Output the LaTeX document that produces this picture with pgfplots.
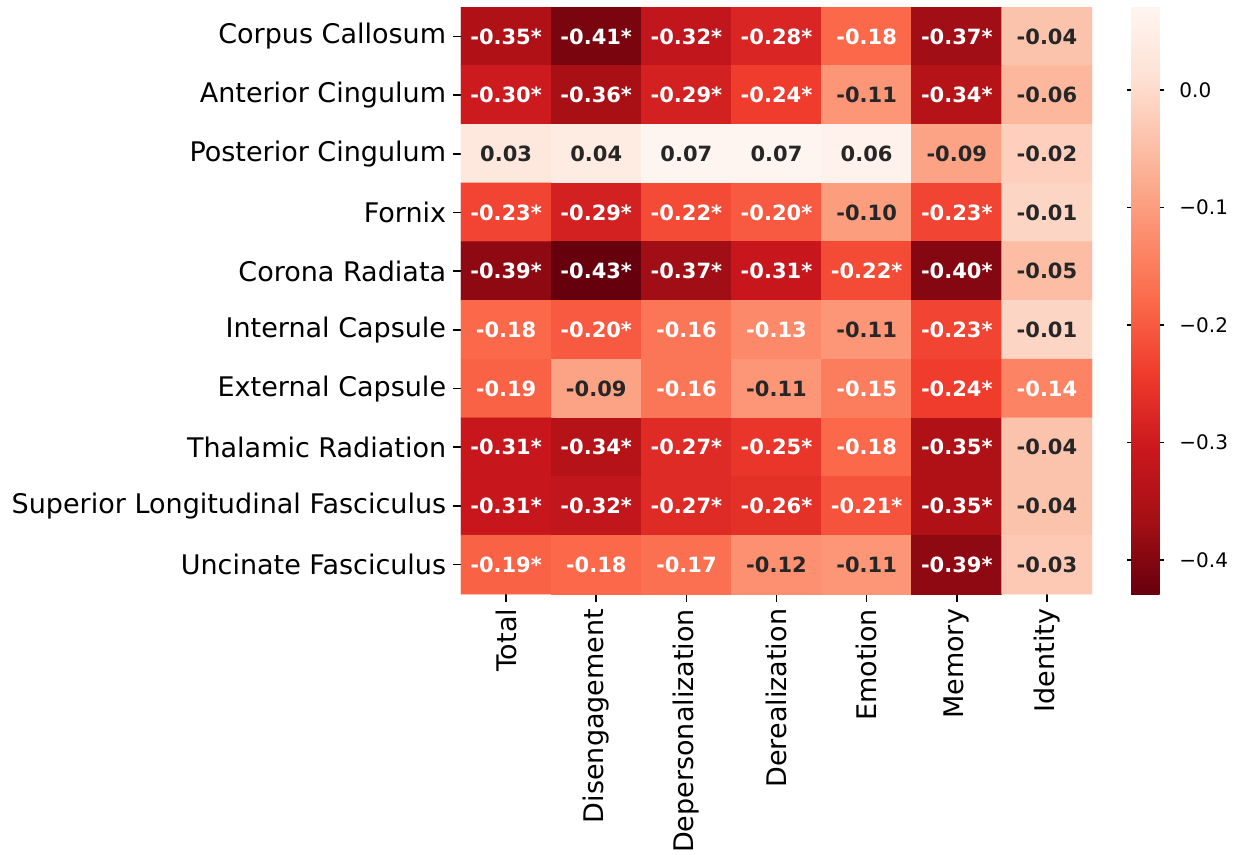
\documentclass[border=0pt]{standalone}
\usepackage{pgfplots}
\pgfplotsset{compat=1.18}
\usepackage{pgfplotstable}
\usepackage{fontspec}
\setmainfont{DejaVu Sans}
\usetikzlibrary{calc}
\definecolor{dtext}{HTML}{262626}

\pgfplotstableread{
x y v lab tc
0 0 -0.35 -0.35* 1
1 0 -0.41 -0.41* 1
2 0 -0.32 -0.32* 1
3 0 -0.28 -0.28* 1
4 0 -0.18 -0.18 1
5 0 -0.37 -0.37* 1
6 0 -0.04 -0.04 0
0 1 -0.30 -0.30* 1
1 1 -0.36 -0.36* 1
2 1 -0.29 -0.29* 1
3 1 -0.24 -0.24* 1
4 1 -0.11 -0.11 0
5 1 -0.34 -0.34* 1
6 1 -0.06 -0.06 0
0 2 0.03 0.03 0
1 2 0.04 0.04 0
2 2 0.07 0.07 0
3 2 0.07 0.07 0
4 2 0.06 0.06 0
5 2 -0.09 -0.09 0
6 2 -0.02 -0.02 0
0 3 -0.23 -0.23* 1
1 3 -0.29 -0.29* 1
2 3 -0.22 -0.22* 1
3 3 -0.20 -0.20* 1
4 3 -0.10 -0.10 0
5 3 -0.23 -0.23* 1
6 3 -0.01 -0.01 0
0 4 -0.39 -0.39* 1
1 4 -0.43 -0.43* 1
2 4 -0.37 -0.37* 1
3 4 -0.31 -0.31* 1
4 4 -0.22 -0.22* 1
5 4 -0.40 -0.40* 1
6 4 -0.05 -0.05 0
0 5 -0.18 -0.18 1
1 5 -0.20 -0.20* 1
2 5 -0.16 -0.16 1
3 5 -0.13 -0.13 1
4 5 -0.11 -0.11 0
5 5 -0.23 -0.23* 1
6 5 -0.01 -0.01 0
0 6 -0.19 -0.19 1
1 6 -0.09 -0.09 0
2 6 -0.16 -0.16 1
3 6 -0.11 -0.11 0
4 6 -0.15 -0.15 1
5 6 -0.24 -0.24* 1
6 6 -0.14 -0.14 1
0 7 -0.31 -0.31* 1
1 7 -0.34 -0.34* 1
2 7 -0.27 -0.27* 1
3 7 -0.25 -0.25* 1
4 7 -0.18 -0.18 1
5 7 -0.35 -0.35* 1
6 7 -0.04 -0.04 0
0 8 -0.31 -0.31* 1
1 8 -0.32 -0.32* 1
2 8 -0.27 -0.27* 1
3 8 -0.26 -0.26* 1
4 8 -0.21 -0.21* 1
5 8 -0.35 -0.35* 1
6 8 -0.04 -0.04 0
0 9 -0.19 -0.19* 1
1 9 -0.18 -0.18 1
2 9 -0.17 -0.17 1
3 9 -0.12 -0.12 0
4 9 -0.11 -0.11 0
5 9 -0.39 -0.39* 1
6 9 -0.03 -0.03 0
}\datatable

\begin{document}
\begin{tikzpicture}
\begin{axis}[
  name=main,
  scale only axis, width=315.5pt, height=293.5pt,
  xmin=-0.5, xmax=6.5, ymin=-0.5, ymax=9.5, y dir=reverse,
  enlargelimits=false,
  axis lines*=left, axis line style={draw=none},
  tick align=outside, major tick length=3.75pt,
  tick style={draw=black, line width=0.8pt},
  xtick={0,1,2,3,4,5,6}, ytick={0,1,2,3,4,5,6,7,8,9},
  xticklabels={Total,Disengagement,Depersonalization,Derealization,Emotion,Memory,Identity},
  yticklabels={Corpus Callosum,Anterior Cingulum,Posterior Cingulum,Fornix,Corona Radiata,Internal Capsule,External Capsule,Thalamic Radiation,Superior Longitudinal Fasciculus\hspace{0.318em},Uncinate Fasciculus\hspace{0.318em}},
  xticklabel shift=3.5pt, yticklabel shift=3.5pt,
  xticklabel style={rotate=90, anchor=east, inner sep=0pt, font=\fontsize{13.5}{15}\selectfont, text=black},
  yticklabel style={anchor=east, inner sep=0pt, font=\fontsize{13.5}{15}\selectfont, text=black},
  colormap={redsr}{rgb255=(103,0,13) rgb255=(165,15,21) rgb255=(203,24,29) rgb255=(239,59,44) rgb255=(251,106,74) rgb255=(252,146,114) rgb255=(252,187,161) rgb255=(254,224,210) rgb255=(255,245,240)},
  point meta min=-0.429, point meta max=0.0706,
  colorbar,
  colorbar style={
    at={(parent axis.north east)}, anchor=north west, xshift=11pt,
    scale only axis, width=14.5pt, height=293.5pt,
    axis line style={draw=none},
    tick align=outside, major tick length=2pt,
    tick style={draw=black, line width=0.6pt},
    ytick={-0.4,-0.3,-0.2,-0.1,0},
    yticklabels={−0.4,−0.3,−0.2,−0.1,0.0},
    yticklabel shift=7.5pt,
    yticklabel style={font=\fontsize{10}{12}\selectfont, inner sep=0pt, anchor=west, text=black},
  },
]
\addplot[matrix plot*, mesh/cols=7, point meta=\thisrow{v}] table[x=x, y=y] {\datatable};
\addplot[draw=none, mark=none, nodes near coords, point meta=explicit symbolic,
  restrict expr to domain={\thisrow{tc}}{0.5:1.5},
  nodes near coords style={anchor=center, inner sep=0pt, text=white, font=\bfseries\fontsize{10.5}{12}\selectfont}]
  table[x=x, y=y, meta=lab] {\datatable};
\addplot[draw=none, mark=none, nodes near coords, point meta=explicit symbolic,
  restrict expr to domain={\thisrow{tc}}{-0.5:0.5},
  nodes near coords style={anchor=center, inner sep=0pt, text=dtext, font=\bfseries\fontsize{10.5}{12}\selectfont}]
  table[x=x, y=y, meta=lab] {\datatable};
\end{axis}
\pgfresetboundingbox
\path ($(main.south west)+(-230.5pt,-130pt)$) rectangle ($(main.north east)+(74.5pt,3.5pt)$);
\end{tikzpicture}
\end{document}
